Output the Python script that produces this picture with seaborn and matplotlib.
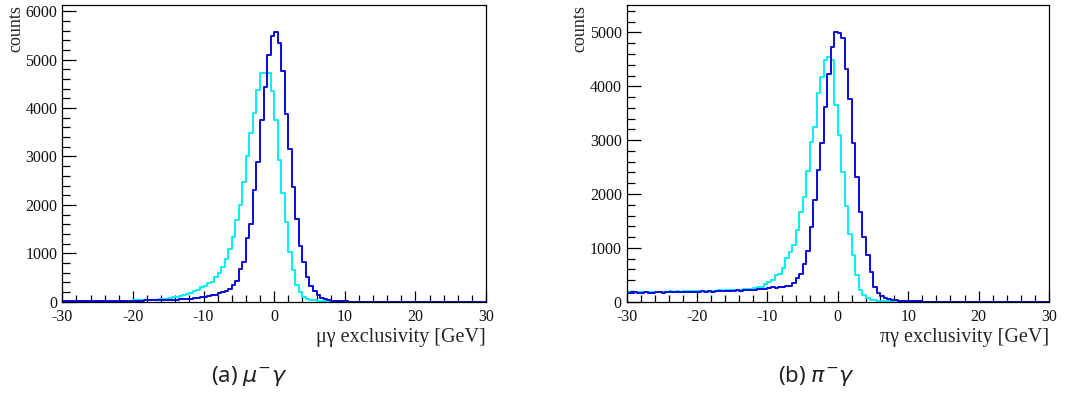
import numpy as np
import pandas as pd
import matplotlib
matplotlib.use("Agg")
import matplotlib.pyplot as plt
from matplotlib.ticker import MultipleLocator, FixedLocator
import seaborn as sns

# ---------------- data ----------------
bin_low, bin_high, bin_width = -30.0, 30.0, 0.5

# mu- gamma exclusivity (left panel), counts per 0.5 GeV bin from -30 to 30
mu_cyan = [
    10, 9, 11, 10, 12, 11, 13, 12, 14, 13,
    15, 16, 15, 17, 18, 19, 20, 21, 23, 24,
    26, 28, 30, 32, 35, 38, 42, 48, 55, 64,
    76, 90, 105, 118, 140, 162, 190, 215, 245, 300,
    320, 380, 410, 500, 600, 720, 890, 1080, 1330, 1690,
    1990, 2470, 3000, 3480, 3900, 4370, 4720, 4720, 4720, 4360,
    3750, 2920, 2255, 1640, 1030, 660, 345, 207, 100, 60,
    35, 25, 15, 10, 7, 5, 4, 3, 3, 2,
    2, 2, 1, 1, 1, 1, 0, 1, 0, 0,
    1, 0, 0, 1, 0, 0, 0, 0, 1, 0,
    0, 0, 0, 0, 0, 0, 0, 0, 0, 0,
    0, 0, 0, 0, 0, 0, 0, 0, 0, 0,
]
mu_blue = [
    12, 13, 12, 14, 13, 15, 14, 15, 16, 15,
    17, 16, 18, 17, 19, 18, 20, 19, 21, 21,
    22, 23, 24, 25, 27, 28, 30, 32, 34, 36,
    40, 42, 45, 50, 55, 60, 65, 75, 80, 90,
    100, 110, 130, 140, 170, 200, 230, 260, 345, 430,
    670, 830, 1310, 1600, 2310, 2880, 3760, 4440, 5100, 5490,
    5570, 5345, 4760, 3880, 3150, 2380, 1710, 1160, 830, 500,
    330, 230, 130, 80, 50, 30, 20, 12, 8, 6,
    5, 4, 3, 3, 2, 2, 2, 1, 1, 1,
    1, 1, 0, 1, 0, 0, 1, 0, 0, 0,
    0, 0, 0, 0, 0, 0, 0, 0, 0, 0,
    0, 0, 0, 0, 0, 0, 0, 0, 0, 0,
]

# pi- gamma exclusivity (right panel)
pi_cyan = [
    175, 170, 178, 172, 180, 176, 182, 178, 185, 180,
    186, 182, 190, 185, 192, 188, 195, 190, 198, 194,
    200, 196, 204, 200, 206, 203, 210, 205, 214, 210,
    218, 215, 222, 228, 232, 238, 252, 266, 280, 330,
    370, 405, 500, 515, 620, 815, 915, 1050, 1330, 1660,
    1950, 2435, 2975, 3250, 3870, 4180, 4480, 4540, 4490, 3650,
    3100, 2410, 1780, 1260, 860, 500, 215, 120, 62, 40,
    28, 18, 12, 8, 6, 5, 4, 3, 3, 2,
    2, 2, 1, 1, 1, 1, 1, 0, 1, 0,
    1, 0, 0, 1, 0, 0, 0, 1, 0, 0,
    0, 0, 0, 0, 0, 0, 0, 0, 0, 0,
    0, 0, 0, 0, 0, 0, 0, 0, 0, 0,
]
pi_blue = [
    165, 160, 172, 168, 162, 175, 170, 166, 178, 172,
    168, 180, 176, 185, 172, 182, 178, 188, 180, 186,
    184, 190, 182, 195, 188, 192, 198, 190, 200, 196,
    205, 210, 202, 215, 212, 222, 218, 228, 232, 240,
    250, 265, 258, 270, 280, 290, 300, 350, 440, 520,
    700, 950, 1394, 1880, 2440, 2950, 3612, 4230, 4730, 5006,
    4990, 4900, 4318, 3765, 2943, 2320, 1675, 1196, 870, 550,
    275, 170, 100, 74, 50, 35, 28, 18, 12, 10,
    6, 5, 4, 4, 3, 3, 2, 2, 2, 1,
    1, 1, 1, 0, 1, 1, 0, 0, 1, 0,
    0, 1, 0, 0, 0, 0, 1, 0, 0, 0,
    0, 0, 0, 0, 0, 0, 0, 0, 0, 0,
]

x_labels = ["\u03bc\u03b3 exclusivity [GeV]", "\u03c0\u03b3 exclusivity [GeV]"]
captions = [r"(a) $\mu^{-}\gamma$", r"(b) $\pi^{-}\gamma$"]
y_tops = [6130, 5510]
x_ticks = [-30, -20, -10, 0, 10, 20, 30]
x_tick_labels = ["-30", "-20", "-10", "0", "10", "20", "30"]

# ---------------- style ----------------
sns.set_style("ticks")
plt.rcParams["font.family"] = ["Liberation Serif", "DejaVu Serif"]
plt.rcParams["axes.unicode_minus"] = False
plt.rcParams["mathtext.fontset"] = "dejavusans"

CYAN = "#00f0f0"
BLUE = "#0a0ad8"

n_bins = len(mu_cyan)
edges = [bin_low + i * bin_width for i in range(n_bins + 1)]
centers = [bin_low + (i + 0.5) * bin_width for i in range(n_bins)]

fig = plt.figure(figsize=(10.65, 3.96), dpi=100)
W, H = 1065.0, 396.0
panels = [
    (62.3, 486.0, mu_cyan, mu_blue),
    (626.7, 1049.0, pi_cyan, pi_blue),
]
caption_x = [249, 816]
top_px, bot_px = 5.0, 301.7

for k, (x0, x1, cy, bl) in enumerate(panels):
    ax = fig.add_axes([x0 / W, 1 - bot_px / H, (x1 - x0) / W, (bot_px - top_px) / H])
    df = pd.DataFrame({"x": centers, "cyan": cy, "blue": bl})
    sns.histplot(data=df, x="x", weights="cyan", bins=edges, element="step",
                 fill=False, color=CYAN, linewidth=1.4, ax=ax)
    sns.histplot(data=df, x="x", weights="blue", bins=edges, element="step",
                 fill=False, color=BLUE, linewidth=1.4, ax=ax)
    ax.set_xlim(bin_low, bin_high)
    ax.set_ylim(0, y_tops[k])
    ax.xaxis.set_major_locator(FixedLocator(x_ticks))
    ax.set_xticklabels(x_tick_labels)
    ax.xaxis.set_minor_locator(MultipleLocator(2))
    ax.yaxis.set_major_locator(MultipleLocator(1000))
    ax.yaxis.set_minor_locator(MultipleLocator(200))
    ax.tick_params(axis="both", which="both", direction="in", top=False, right=False,
                   labelsize=11.5, color="black", width=0.9, labelcolor="#111111")
    ax.tick_params(axis="x", which="major", length=8, pad=5.5)
    ax.tick_params(axis="x", which="minor", length=5)
    ax.tick_params(axis="y", which="major", length=10, pad=3.5)
    ax.tick_params(axis="y", which="minor", length=6)
    for s in ax.spines.values():
        s.set_visible(True)
        s.set_color("black")
        s.set_linewidth(0.9)
    ax.set_xlabel(x_labels[k], loc="right", fontsize=14.5, labelpad=2)
    ax.set_ylabel("counts", loc="top", fontsize=13, labelpad=1)
    ax.grid(False)
    fig.text(caption_x[k] / W, 1 - 376 / H, captions[k], ha="center", va="center",
             fontsize=16, family=["Noto Sans", "DejaVu Sans"], color="#222222")

fig.savefig("out.png", dpi=100)
